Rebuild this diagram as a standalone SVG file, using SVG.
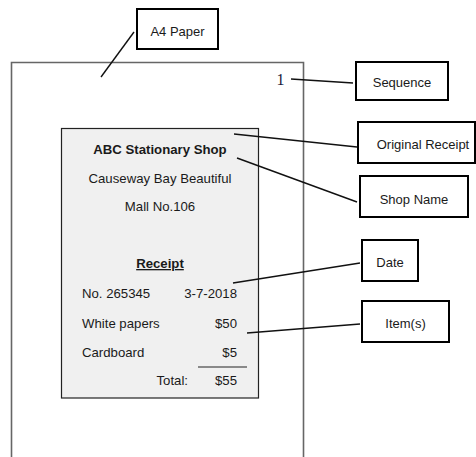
<svg xmlns="http://www.w3.org/2000/svg" width="476" height="457" viewBox="0 0 476 457">
<style>
.lbl rect{fill:#fff;stroke:#000;stroke-width:2}
.lbl text{font-family:"Liberation Sans",Arial,sans-serif;font-size:13px;fill:#1a1a1a;text-anchor:middle}
.rt{font-family:"Liberation Sans",Arial,sans-serif;font-size:13.2px;fill:#1a1a1a}
.b{font-weight:bold}
.m{text-anchor:middle}
.e{text-anchor:end}
#connectors line{stroke:#111;stroke-width:1.4}
</style>
<rect width="476" height="457" fill="#fff"/>
<g id="paper">
<path d="M11.5 460 V62.5 H303.5 V460" fill="none" stroke="#666" stroke-width="1.6"/>
<text x="280.5" y="85" font-family="Liberation Serif,serif" font-size="16" fill="#1a1a3a" text-anchor="middle">1</text>
</g>
<g id="receipt">
<rect x="61.5" y="128.5" width="197" height="269.5" fill="#f0f0f0" stroke="#222" stroke-width="1.2"/>
<text class="rt b m" x="160" y="154" font-size="14.5">ABC Stationary Shop</text>
<text class="rt m" x="160" y="183">Causeway Bay Beautiful</text>
<text class="rt m" x="160" y="211">Mall No.106</text>
<text class="rt b m" x="160" y="268" text-decoration="underline">Receipt</text>
<text class="rt" x="82" y="298">No. 265345</text>
<text class="rt e" x="237" y="298">3-7-2018</text>
<text class="rt" x="82" y="328">White papers</text>
<text class="rt e" x="237" y="328">$50</text>
<text class="rt" x="82" y="357">Cardboard</text>
<text class="rt e" x="237" y="357">$5</text>
<line x1="198" y1="367" x2="247" y2="367" stroke="#222" stroke-width="1.2"/>
<text class="rt e" x="188" y="385">Total:</text>
<text class="rt e" x="237" y="385">$55</text>
</g>
<g id="connectors">
<line x1="134" y1="32" x2="101" y2="77"/>
<line x1="291" y1="79" x2="353" y2="83"/>
<line x1="234" y1="134" x2="357" y2="147"/>
<line x1="237" y1="158" x2="357" y2="202"/>
<line x1="233" y1="283" x2="360" y2="263"/>
<line x1="247" y1="333" x2="360" y2="324"/>
</g>
<g id="a4-paper" class="lbl"><rect x="137" y="9" width="81" height="40"/><text x="177.5" y="36">A4 Paper</text></g>
<g id="sequence" class="lbl"><rect x="356" y="62" width="92" height="38"/><text x="402" y="87">Sequence</text></g>
<g id="original-receipt" class="lbl"><rect x="358" y="122" width="117" height="41"/><text x="423" y="149">Original Receipt</text></g>
<g id="shop-name" class="lbl"><rect x="360" y="176" width="108" height="41"/><text x="414" y="204">Shop Name</text></g>
<g id="date" class="lbl"><rect x="362" y="240" width="56" height="41"/><text x="390" y="267">Date</text></g>
<g id="items" class="lbl"><rect x="362" y="301" width="87" height="41"/><text x="405.5" y="328">Item(s)</text></g>
</svg>
